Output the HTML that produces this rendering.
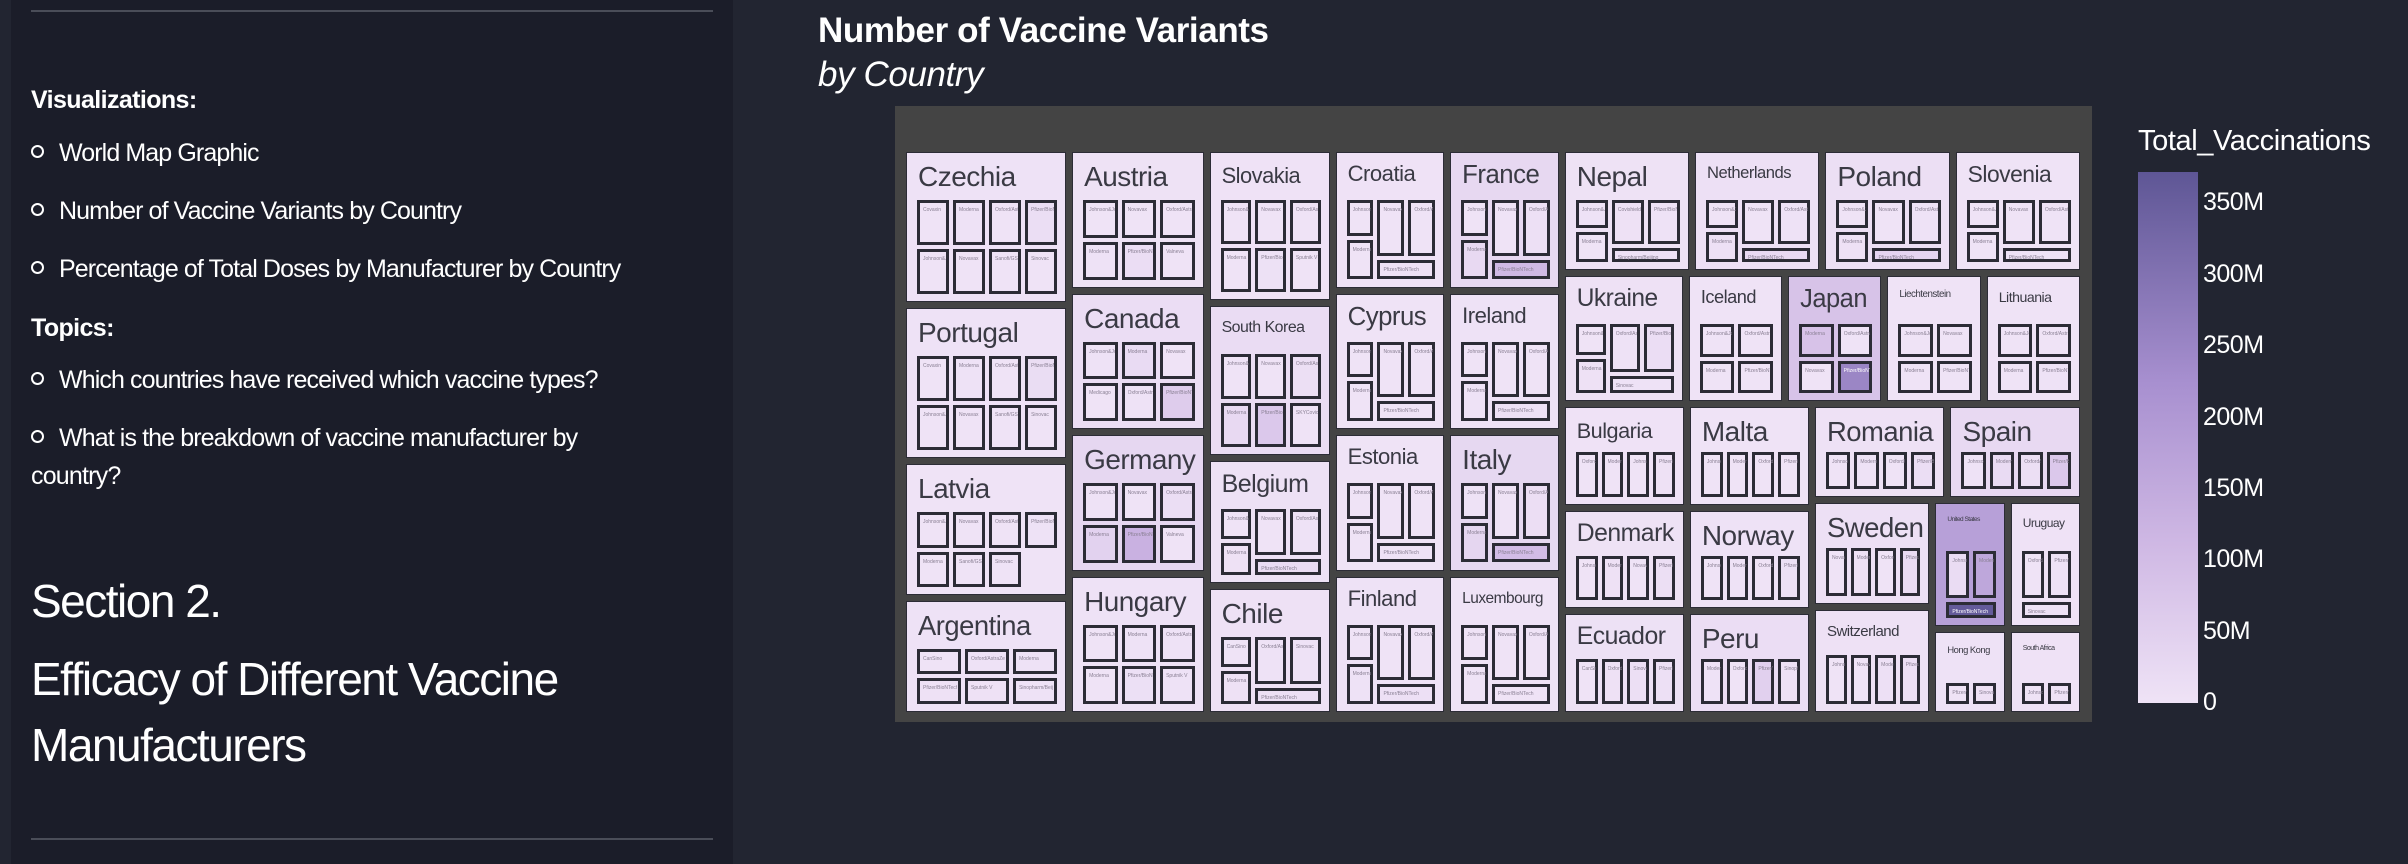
<!DOCTYPE html>
<html><head><meta charset="utf-8">
<style>
*{box-sizing:border-box;margin:0;padding:0}
body{width:2408px;height:864px;background:#222531;position:relative;overflow:hidden;font-family:"Liberation Sans",sans-serif;color:#fff}
#side{position:absolute;left:11px;top:0;width:722px;height:864px;background:#1b1d29}
.hr{position:absolute;left:20px;width:682px;height:2px;background:#4a4d58}
.t{position:absolute;left:20px;white-space:nowrap;letter-spacing:-0.6px}
.b{position:absolute;left:20px;white-space:nowrap;font-size:25px;letter-spacing:-0.9px}
.b:before{content:"";display:inline-block;width:9px;height:9px;border:2px solid #fff;border-radius:50%;margin-right:15px;vertical-align:middle;position:relative;top:-3px}
#plot{position:absolute;left:895px;top:106px;width:1197px;height:616px;background:#444}
.tile{position:absolute;border:1.5px solid #2c2c36;overflow:hidden}
.lab{position:absolute;left:11px;white-space:nowrap;color:#3a3a44;letter-spacing:-0.5px}
.sub{position:absolute;border:3px solid #2c2c36}
.sl{position:absolute;left:3px;top:4px;font-size:5px;color:#8a8094;white-space:nowrap;overflow:hidden;width:90%}
</style></head><body>
<div id="side">
<div class="hr" style="top:10px"></div>
<div class="t" style="top:86px;font-size:25px;font-weight:bold">Visualizations:</div>
<div class="b" style="top:139px">World Map Graphic</div>
<div class="b" style="top:197px">Number of Vaccine Variants by Country</div>
<div class="b" style="top:255px">Percentage of Total Doses by Manufacturer by Country</div>
<div class="t" style="top:314px;font-size:25px;font-weight:bold">Topics:</div>
<div class="b" style="top:366px">Which countries have received which vaccine types?</div>
<div class="b" style="top:424px">What is the breakdown of vaccine manufacturer by</div>
<div class="t" style="top:462px;font-size:25px;letter-spacing:-0.8px">country?</div>
<div class="t" style="top:574px;font-size:46px;letter-spacing:-1.5px">Section 2.</div>
<div class="t" style="top:652px;font-size:46px;letter-spacing:-1.5px">Efficacy of Different Vaccine</div>
<div class="t" style="top:718px;font-size:46px;letter-spacing:-1.5px">Manufacturers</div>
<div class="hr" style="top:838px"></div>
</div>
<div style="position:absolute;left:818px;top:11px;font-size:35px;font-weight:bold;letter-spacing:-0.4px">Number of Vaccine Variants</div>
<div style="position:absolute;left:818px;top:55px;font-size:35px;font-style:italic;letter-spacing:-0.4px">by Country</div>
<div id="plot"></div>
<div style="position:absolute;left:2138px;top:125px;font-size:29px;letter-spacing:-0.4px">Total_Vaccinations</div>
<div id="cbar" style="position:absolute;left:2138px;top:172px;width:60px;height:531px"></div>
<div id="cticks"></div>
<script>
const countries=["Czechia","Portugal","Latvia","Argentina","Austria","Canada","Germany","Hungary","Slovakia","South Korea","Belgium","Chile","Croatia","Cyprus","Estonia","Finland","France","Ireland","Italy","Luxembourg","Nepal","Netherlands","Poland","Slovenia","Ukraine","Iceland","Japan","Liechtenstein","Lithuania","Bulgaria","Denmark","Ecuador","Malta","Norway","Peru","Romania","Spain","Sweden","Switzerland","United States","Uruguay","Hong Kong","South Africa"];
const vaccines=[
["Covaxin","Moderna","Oxford/AstraZeneca","Pfizer/BioNTech","Johnson&Johnson","Novavax","Sanofi/GSK","Sinovac"],
["Covaxin","Moderna","Oxford/AstraZeneca","Pfizer/BioNTech","Johnson&Johnson","Novavax","Sanofi/GSK","Sinovac"],
["Johnson&Johnson","Novavax","Oxford/AstraZeneca","Pfizer/BioNTech","Moderna","Sanofi/GSK","Sinovac"],
["CanSino","Oxford/AstraZeneca","Moderna","Pfizer/BioNTech","Sputnik V","Sinopharm/Beijing"],
["Johnson&Johnson","Novavax","Oxford/AstraZeneca","Moderna","Pfizer/BioNTech","Valneva"],
["Johnson&Johnson","Moderna","Novavax","Medicago","Oxford/AstraZeneca","Pfizer/BioNTech"],
["Johnson&Johnson","Novavax","Oxford/AstraZeneca","Moderna","Pfizer/BioNTech","Valneva"],
["Johnson&Johnson","Moderna","Oxford/AstraZeneca","Moderna","Pfizer/BioNTech","Sputnik V"],
["Johnson&Johnson","Novavax","Oxford/AstraZeneca","Moderna","Pfizer/BioNTech","Sputnik V"],
["Johnson&Johnson","Novavax","Oxford/AstraZeneca","Moderna","Pfizer/BioNTech","SKYCovione"],
["Johnson&Johnson","Novavax","Oxford/AstraZeneca","Moderna","Pfizer/BioNTech"],
["CanSino","Oxford/AstraZeneca","Sinovac","Moderna","Pfizer/BioNTech"],
["Johnson&Johnson","Novavax","Oxford/AstraZeneca","Moderna","Pfizer/BioNTech"],
["Johnson&Johnson","Novavax","Oxford/AstraZeneca","Moderna","Pfizer/BioNTech"],
["Johnson&Johnson","Novavax","Oxford/AstraZeneca","Moderna","Pfizer/BioNTech"],
["Johnson&Johnson","Novavax","Oxford/AstraZeneca","Moderna","Pfizer/BioNTech"],
["Johnson&Johnson","Novavax","Oxford/AstraZeneca","Moderna","Pfizer/BioNTech"],
["Johnson&Johnson","Novavax","Oxford/AstraZeneca","Moderna","Pfizer/BioNTech"],
["Johnson&Johnson","Novavax","Oxford/AstraZeneca","Moderna","Pfizer/BioNTech"],
["Johnson&Johnson","Novavax","Oxford/AstraZeneca","Moderna","Pfizer/BioNTech"],
["Johnson&Johnson","Covishield","Pfizer/BioNTech","Moderna","Sinopharm/Beijing"],
["Johnson&Johnson","Novavax","Oxford/AstraZeneca","Moderna","Pfizer/BioNTech"],
["Johnson&Johnson","Novavax","Oxford/AstraZeneca","Moderna","Pfizer/BioNTech"],
["Johnson&Johnson","Novavax","Oxford/AstraZeneca","Moderna","Pfizer/BioNTech"],
["Johnson&Johnson","Oxford/AstraZeneca","Pfizer/BioNTech","Moderna","Sinovac"],
["Johnson&Johnson","Oxford/AstraZeneca","Moderna","Pfizer/BioNTech"],
["Moderna","Oxford/AstraZeneca","Novavax","Pfizer/BioNTech"],
["Johnson&Johnson","Novavax","Moderna","Pfizer/BioNTech"],
["Johnson&Johnson","Oxford/AstraZeneca","Moderna","Pfizer/BioNTech"],
["Oxford/AstraZeneca","Moderna","Johnson&Johnson","Pfizer/BioNTech"],
["Johnson&Johnson","Moderna","Novavax","Pfizer/BioNTech"],
["CanSino","Oxford/AstraZeneca","Sinovac","Pfizer/BioNTech"],
["Johnson&Johnson","Moderna","Oxford/AstraZeneca","Pfizer/BioNTech"],
["Johnson&Johnson","Moderna","Oxford/AstraZeneca","Pfizer/BioNTech"],
["Moderna","Oxford/AstraZeneca","Pfizer/BioNTech","Sinopharm/Beijing"],
["Johnson&Johnson","Moderna","Oxford/AstraZeneca","Pfizer/BioNTech"],
["Johnson&Johnson","Moderna","Oxford/AstraZeneca","Pfizer/BioNTech"],
["Novavax","Moderna","Oxford/AstraZeneca","Pfizer/BioNTech"],
["Johnson&Johnson","Novavax","Moderna","Pfizer/BioNTech"],
["Johnson&Johnson","Moderna","Pfizer/BioNTech"],
["Oxford/AstraZeneca","Pfizer/BioNTech","Sinovac"],
["Pfizer/BioNTech","Sinovac"],
["Johnson&Johnson","Pfizer/BioNTech"]];
const doses=[
[0.1,3,1,14,0.5,0.1,0.1,0.1],[0.1,3,1,16,0.5,0.1,0.1,0.1],[0.5,0.1,1,3,1,0.1,0.1],[1,2,3,4,5,2],
[0.5,0.1,1,3,15,0.1],[3,20,0.1,0.1,3,60],[3,1,13,45,130,0.1],[0.5,2,3,1,9,2],
[0.3,0.1,1,1,6,0.1],[1,1,11,25,70,0.1],[0.5,0.1,3,5,18],[1,2,3,5,10],
[0.2,0.1,1,1,5],[0.1,0.1,0.3,0.2,1],[0.1,0.1,0.2,0.3,2],[0.1,0.1,1,2,8],
[1,0.1,8,25,110],[0.3,0.1,1,2,8],[2,0.1,12,35,100],[0.1,0.1,0.1,0.2,1],
[2,4,2,1,8],[1,0.1,3,8,25],[1,0.1,3,5,40],[0.1,0.1,0.3,0.3,2],
[1,2,15,5,3],[0.1,0.1,0.2,0.6],[85,1,0.1,250],[0.1,0.1,0.1,0.1],[0.2,0.2,1,3],
[0.5,1,0.5,4],[0.1,4,0.1,10],[1,4,10,8],[0.1,0.1,0.2,1],[0.2,3,0.1,9],
[2,0.1,50,5],[0.5,3,1,14],[2,20,10,70],[0.2,5,1,20],[0.1,0.1,8,10],
[18,160,360],[0.1,3,2],[1,4],[1,2]];
const colorStops=[[0,[239,227,246]],[0.3,[207,184,228]],[0.6,[168,144,208]],[1,[94,86,149]]];
const cbMax=372;
const cbTicks=[0,50,100,150,200,250,300,350];
const cbTickLabels=["0","50M","100M","150M","200M","250M","300M","350M"];
const tree={d:'h',c:[{d:'v',c:[0,1,2,3]},{d:'v',c:[4,5,6,7]},{d:'v',c:[8,9,10,11]},{d:'v',c:[12,13,14,15]},{d:'v',c:[16,17,18,19]},
 {d:'v',c:[{d:'h',c:[20,21,22,23]},{d:'h',c:[24,25,26,27,28]},
  {d:'h',c:[{d:'v',c:[29,30,31]},{d:'v',c:[32,33,34]},
   {d:'v',c:[{d:'h',c:[35,36]},{d:'h',c:[{d:'v',c:[37,38]},{d:'v',c:[{d:'h',c:[39,40]},{d:'h',c:[41,42]}]}]}]}]}]}]};
function col(v){let t=Math.max(0,Math.min(1,v/cbMax));for(let i=1;i<colorStops.length;i++){const a=colorStops[i-1],b=colorStops[i];if(t<=b[0]){const f=(t-a[0])/(b[0]-a[0]);return 'rgb('+a[1].map((x,k)=>Math.round(x+(b[1][k]-x)*f)).join(',')+')';}}}
function wt(n){return typeof n==='number'?vaccines[n].length:n.c.reduce((s,c)=>s+wt(c),0);}
const plot=document.getElementById('plot');
function lay(n,x,y,w,h){
 if(typeof n==='number'){drawTile(n,x,y,w,h);return;}
 const tot=wt(n);let o=0;
 n.c.forEach(c=>{const f=wt(c)/tot;if(n.d==='h'){lay(c,x+o,y,w*f,h);o+=w*f;}else{lay(c,x,y+o,w,h*f);o+=h*f;}});
}
function subRects(n,w,h){
 const r=[];const g=4;
 const grid=(cols,rows)=>{const cw=(w-g*(cols-1))/cols,ch=(h-g*(rows-1))/rows;for(let i=0;i<n;i++){const c=i%cols,rr=Math.floor(i/cols);r.push([c*(cw+g),rr*(ch+g),cw,ch]);}};
 const wide=w>h*1.6;
 if(n===8)grid(4,2);else if(n===7)grid(4,2);else if(n===6)grid(3,2);
 else if(n===4){wide?grid(4,1):grid(2,2);}
 else if(n===2)grid(2,1);
 else if(n===5){const cw=(w-2*g)/3,h1=h*0.45;
  r.push([0,0,cw,h1],[cw+g,0,cw,h*0.7],[2*(cw+g),0,cw,h*0.7],[0,h1+g,cw,h-h1-g],[cw+g,h*0.7+g,2*cw+g,h*0.3-g]);}
 else if(n===3){const cw=(w-g)/2;r.push([0,0,cw,h*0.7],[cw+g,0,cw,h*0.7],[0,h*0.7+g,w,h*0.3-g]);}
 return r;
}
function drawTile(i,x,y,w,h){
 const vals=doses[i];const mean=vals.reduce((a,b)=>a+b,0)/vals.length;
 const t=document.createElement('div');
 t.className='tile';
 
 
 t.style.cssText=`left:${x+3}px;top:${y+3}px;width:${w-6}px;height:${h-6}px;background:${col(mean)}`;
 const name=countries[i];
 let fs=Math.min(28,(w-28)/(name.length*0.56));
 if(name.length>10)fs=Math.min(fs,20);
 if(w<80)fs=Math.min(fs,12);
 const l=document.createElement('div');l.className='lab';l.textContent=name;
 l.style.fontSize=fs+'px';l.style.top=(fs>22?8:fs>16?10:12)+'px';
 t.appendChild(l);
 const n=vals.length;
 const top=n<=2?h*0.58:(h<110?44:47);
 const sx=10,sw=w-6-20,sh=h-6-top-9;
 subRects(n,sw,sh).forEach((r,k)=>{
  const s=document.createElement('div');s.className='sub';
  
  
  s.style.cssText=`left:${sx+r[0]}px;top:${top+r[1]}px;width:${r[2]}px;height:${r[3]}px;background:${col(vals[k])}`;
  const sl=document.createElement('div');sl.className='sl';sl.textContent=vaccines[i][k];
  if(vals[k]>200)sl.style.color='#fff';
  s.appendChild(sl);t.appendChild(s);
 });
 plot.appendChild(t);
}
lay(tree,8,43,1180,566);
const cb=document.getElementById('cbar');
cb.style.background='linear-gradient(to top,'+colorStops.map(s=>col(s[0]*cbMax)+' '+(s[0]*100)+'%').join(',')+')';
const ct=document.getElementById('cticks');
const cbTop=172,cbH=531;
cbTicks.forEach((v,k)=>{
 const d=document.createElement('div');
 
 
 d.textContent=cbTickLabels[k];
 d.style.cssText=`position:absolute;left:2203px;top:${cbTop+cbH-v/cbMax*cbH-15}px;font-size:25px;letter-spacing:-0.5px`;
 ct.appendChild(d);
});
</script>
</body></html>
